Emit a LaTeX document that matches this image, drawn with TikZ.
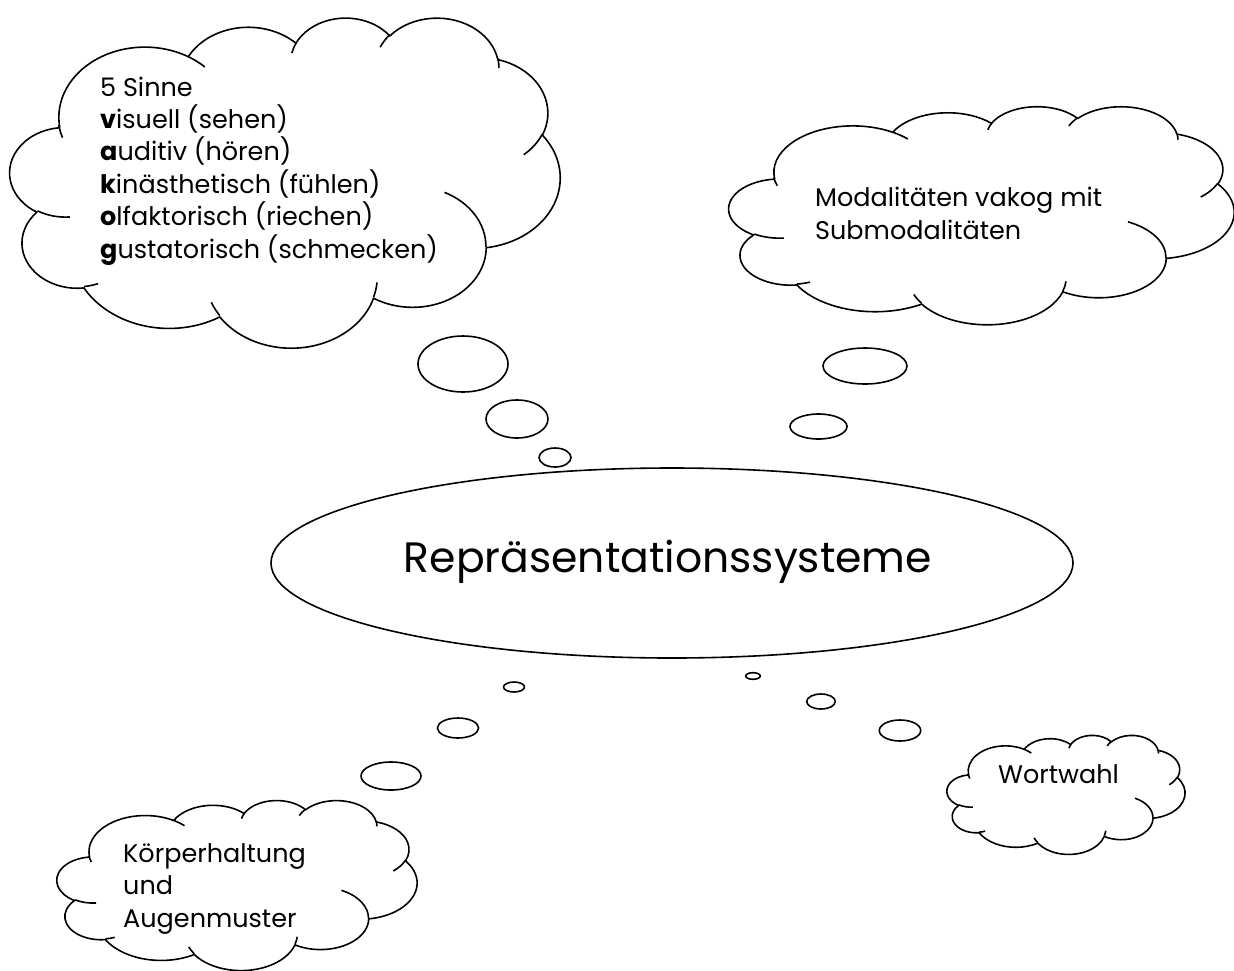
\documentclass[tikz,border=0pt]{standalone}
\usepackage{fontspec}
\setmainfont{Poppins}
\usetikzlibrary{shapes.geometric}
\tikzset{
  declare function={vp(\wa,\ha,\qa)=\qa+mod(atan2(\wa*sin(\qa),\ha*cos(\qa))-\qa+900,360)-180;},
  cloudline/.style={line width=1.6pt, line join=round},
  txt/.style={anchor=base west, inner sep=0pt, align=left, font=\fontsize{25.5}{32.4}\selectfont},
}
\newcommand\carc[4]{arc[x radius=#1,y radius=#2,start angle={vp(#1,#2,#3)},end angle={vp(#1,#2,#3+#4)}]}
\newcommand\cloudshape[4]{%
\begin{scope}[shift={(#1,#2)},xscale=#3/432,yscale=#4/432]
\draw[cloudline,fill=white] (39.00,143.70) \carc{67.53}{91.90}{-190.487}{123.781}
 \carc{53.33}{72.67}{-144.102}{89.945} \carc{43.65}{59.45}{-145.808}{99.723}
 \carc{48.57}{65.95}{-130.986}{117.242} \carc{53.33}{72.73}{-78.709}{109.027}
 \carc{67.75}{92.20}{-46.267}{130.269} \carc{57.85}{78.67}{0.625}{114.033}
 \carc{67.52}{92.15}{22.452}{115.173} \carc{77.20}{105.43}{66.243}{75.711}
 \carc{43.60}{59.18}{-274.942}{146.736} \carc{43.45}{59.45}{-246.829}{152.519} -- cycle;
\draw[cloudline] (46.93,261.77) \carc{43.45}{59.45}{86.742}{26.430}
 (69.28,348.99) \carc{43.60}{59.18}{73.611}{11.449}
 (164.78,390.90) \carc{67.52}{92.15}{137.624}{14.081}
 (288.27,347.51) \carc{67.52}{92.15}{6.453}{15.998}
 (341.29,229.54) \carc{57.85}{78.67}{-70.292}{70.917}
 (417.98,153.54) \carc{53.33}{72.73}{30.318}{27.752}
 (383.24,54.26) \carc{48.57}{65.95}{-13.744}{14.859}
 (290.78,39.52) \carc{48.57}{65.95}{-149.181}{18.195}
 (221.41,47.20) \carc{43.65}{59.45}{-163.494}{17.686}
 (140.00,51.92) \carc{67.53}{91.90}{-66.707}{12.319}
 (41.27,157.89) \carc{67.53}{91.90}{154.679}{13.552};
\end{scope}}
\begin{document}
\begin{tikzpicture}[x=1pt,y=1pt,yscale=-1]
\useasboundingbox[fill=white] (0,0) rectangle (1234,970);
% clouds
\cloudshape{10}{17}{550}{330}
\cloudshape{729}{106}{505}{218}
\cloudshape{57}{800}{360}{170}
\cloudshape{947}{735}{238}{119}
% bubbles
\draw[cloudline] (463,364) ellipse [x radius=45, y radius=28];
\draw[cloudline] (517,419) ellipse [x radius=31, y radius=19];
\draw[cloudline] (555,457.5) ellipse [x radius=16, y radius=9.5];
\draw[cloudline] (865,366) ellipse [x radius=42, y radius=18];
\draw[cloudline] (818.5,426.5) ellipse [x radius=28.5, y radius=12.5];
\draw[cloudline] (514,687) ellipse [x radius=10.5, y radius=5];
\draw[cloudline] (458,728) ellipse [x radius=20.6, y radius=10];
\draw[cloudline] (391,776) ellipse [x radius=30, y radius=14];
\draw[cloudline] (753,676) ellipse [x radius=7.3, y radius=3.3];
\draw[cloudline] (821,701.5) ellipse [x radius=14.3, y radius=7.5];
\draw[cloudline] (900,730.5) ellipse [x radius=20.7, y radius=10.5];
% central ellipse
\node[draw, cloudline, ellipse, fill=white, minimum width=802pt, minimum height=190pt, inner sep=0pt] (center) at (672,563) {};
\node[anchor=base, inner sep=0pt, font=\fontsize{42.5}{52}\selectfont] (title) at (668,572) {Repräsentationssysteme};
% texts (anchor = baseline of last line)
\node[txt] (sinne) at (100,258) {5 Sinne\\\textbf{v}isuell (sehen)\\\textbf{a}uditiv (hören)\\\textbf{k}inästhetisch (fühlen)\\\textbf{o}lfaktorisch (riechen)\\\textbf{g}ustatorisch (schmecken)};
\node[txt] (modal) at (815,239) {Modalitäten vakog mit\\Submodalitäten};
\node[txt] (wort) at (998,783) {Wortwahl};
\begin{scope}
\clip (0,0) rectangle (1234,933);
\node[txt] (koerper) at (123,927) {Körperhaltung\\und\\Augenmuster};
\end{scope}
\end{tikzpicture}
\end{document}
